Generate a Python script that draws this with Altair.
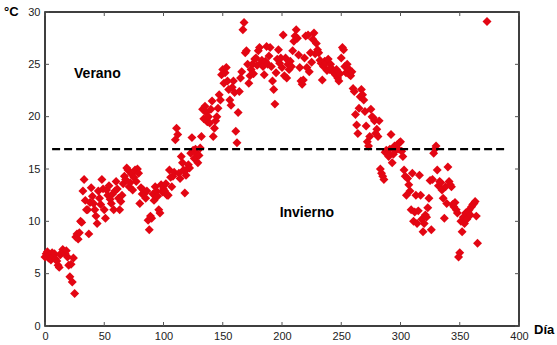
import altair as alt
import pandas as pd

# --- data ---
day = [0, 1, 2, 3, 4, 5, 6, 7, 8, 9, 10, 11, 12, 13, 14, 15, 16, 17, 18, 19, 20, 21, 22, 23, 24, 25,
       26, 27, 28, 29, 30, 31, 32, 33, 34, 35,
       36, 37, 38, 39, 40, 41, 42, 43, 44, 45, 46, 47, 48, 49, 50, 51,
       52, 53, 54, 55, 56, 57, 58, 59, 60, 61, 62, 63, 64, 65,
       66, 67, 68, 69, 70, 71, 72, 73, 74, 75, 76, 77, 78, 79, 80,
       81, 82, 83, 84, 85, 86, 87, 88, 89, 90, 91, 92, 93, 94, 95, 96, 97,
       98, 99, 100, 101, 102, 103, 104, 105, 106, 107, 108, 109, 110, 111, 112,
       113, 114, 115, 116, 117, 118, 119, 120, 121, 122, 123, 124, 125,
       126, 127, 128, 129, 130, 131, 132, 133, 134, 135, 136, 137, 138, 139,
       140, 141, 142, 143, 144, 145, 146, 147, 148, 149, 150, 151, 152, 153, 154,
       155, 156, 157, 158, 159, 160, 161, 162, 163, 164, 165, 166, 167, 168, 169, 170,
       171, 172, 173, 174, 175, 176, 177, 178, 179, 180, 181, 182, 183, 184,
       185, 186, 187, 188, 189, 190, 191, 192, 193, 194, 195, 196, 197, 198,
       199, 200, 201, 202, 203, 204, 205, 206, 207,
       208, 209, 210, 211, 212, 213, 214, 215, 216, 217, 218, 219, 220, 221,
       222, 223, 224, 225, 226, 227, 228, 229, 230, 231, 232, 233, 234, 235, 236, 237,
       238, 239, 240, 241, 242, 243, 244, 245, 246, 247, 248, 249, 250, 251, 252, 253, 254, 255, 256, 257, 258, 259,
       260, 261, 262, 263, 264, 265, 266, 267, 268, 269, 270, 271, 272, 273, 274, 275, 276, 277, 278, 279, 280, 281, 282,
       283, 284, 285, 286, 287, 288, 289, 290, 291, 292, 293, 294, 295, 296, 297, 298, 299, 300, 301, 302, 303, 304,
       305, 306, 307, 308, 309, 310, 311, 312, 313, 314, 315, 316, 317, 318, 319, 320, 321, 322, 323, 324, 325, 326, 327,
       328, 329, 330, 331, 332, 333, 334, 335, 336, 337, 338, 339, 340, 341, 342, 343, 344, 345, 346, 347, 348, 349, 350, 351, 352, 353,
       354, 355, 356, 357, 358, 359, 360, 361, 362, 363, 364, 365, 373]

temp = [6.6, 6.9, 7.1, 6.5, 6.8, 6.3, 7.0, 6.7, 6.9, 6.4, 6.2, 5.8, 5.6, 6.8, 7.0, 7.3, 7.1, 6.9, 7.2, 6.6, 5.8, 4.7, 5.9, 4.2, 6.5, 3.1,
        8.5, 8.8, 8.3, 8.9, 10.0, 9.9, 12.9, 14.0, 12.0, 11.1,
        11.1, 8.8, 11.8, 13.2, 12.4, 11.7, 11.1, 10.5, 9.8, 12.9, 12.2, 11.6, 14.0, 13.1, 11.1, 10.3,
        13.0, 12.5, 13.4, 12.1, 11.7, 12.6, 11.1, 12.9, 13.8, 13.1, 12.2, 11.1, 11.9, 12.5,
        13.6, 14.3, 14.0, 15.1, 14.9, 13.3, 13.7, 14.5, 13.0, 14.2, 14.9, 13.8, 15.0, 14.6, 11.7,
        13.2, 12.6, 13.0, 12.7, 12.2, 12.9, 10.1, 9.2, 10.5, 10.3, 12.6, 12.0, 13.3, 12.9, 12.4, 11.1, 10.8,
        13.5, 12.8, 13.1, 12.9, 13.6, 12.5, 12.5, 14.9, 14.2, 13.3, 14.3, 14.7, 17.8, 18.9, 18.3,
        14.6, 14.1, 16.2, 15.6, 14.9, 12.7, 14.4, 15.0, 15.4, 15.1, 16.5, 18.0, 16.8,
        16.0, 16.9, 16.5, 15.6, 16.3, 17.0, 18.1, 20.7, 19.8, 21.0, 20.4, 19.5, 20.0, 19.4,
        20.7, 21.5, 18.1, 18.9, 19.6, 20.0, 20.8, 22.1, 21.6, 24.0, 24.5, 23.2, 24.2, 24.7, 23.4,
        22.6, 21.6, 21.1, 22.8, 23.4, 22.3, 18.6, 17.5, 20.4, 22.4, 23.7, 24.3, 28.3, 29.0, 26.1, 26.3,
        25.0, 23.2, 23.9, 24.5, 25.0, 24.1, 25.5, 25.6, 24.9, 26.3, 26.6, 25.1, 25.4, 24.8,
        24.0, 25.3, 26.7, 25.0, 25.8, 26.6, 24.8, 23.4, 22.6, 21.2, 24.2, 25.5, 26.4, 25.1,
        25.6, 24.7, 27.8, 23.9, 25.6, 23.7, 25.0, 24.5, 25.3,
        24.8, 26.3, 27.2, 27.7, 28.3, 27.5, 25.9, 24.7, 23.4, 23.1, 23.5, 25.6, 27.7, 24.7,
        27.8, 24.3, 26.1, 25.2, 27.4, 28.0, 26.0, 27.0, 26.4, 26.1, 25.4, 25.1, 23.5, 24.8, 25.3, 25.1,
        24.4, 25.5, 24.5, 25.0, 24.6, 24.3, 24.2, 24.0, 24.5, 23.7, 23.4, 24.1, 25.6, 26.6, 26.4, 24.8, 24.2, 25.0, 24.6, 24.0, 23.9, 24.3,
        22.7, 22.4, 20.2, 19.2, 18.4, 20.8, 21.9, 22.6, 22.1, 21.6, 20.5, 19.1, 17.6, 17.2, 18.1, 20.7, 20.0, 19.9, 19.6, 18.4, 18.8, 18.1, 19.6,
        15.0, 14.6, 14.3, 14.0, 16.6, 16.8, 16.5, 16.2, 16.9, 18.3, 15.6, 16.4, 17.2, 16.8, 17.3, 16.9, 17.5, 17.6, 16.7, 16.2, 14.9, 14.3,
        12.5, 14.1, 13.5, 12.9, 11.1, 14.6, 10.0, 10.9, 12.5, 9.8, 11.0, 14.4, 12.5, 10.2, 9.0, 9.8, 10.6, 10.4, 11.3, 12.2, 13.9, 9.2, 14.0,
        16.5, 16.9, 17.2, 14.9, 13.4, 13.8, 13.7, 13.0, 12.2, 10.3, 13.3, 11.7, 15.2, 13.8, 13.5, 13.3, 11.6, 11.4, 11.8, 11.1, 10.8, 6.6, 7.0, 10.0, 9.0, 10.4,
        9.8, 10.8, 10.2, 10.9, 11.1, 10.6, 11.4, 11.6, 11.7, 11.9, 10.5, 7.9, 29.1]

threshold = [16.9]
threshold_start = [6]
threshold_end = [390]

x_ticks = [0, 50, 100, 150, 200, 250, 300, 350, 400]
y_ticks = [0, 5, 10, 15, 20, 25, 30]

season_labels = ["Verano", "Invierno"]
season_day = [24.5, 198]
season_temp = [24.1, 10.8]

FONT = "Liberation Sans"
W, H = 474, 314

xs = alt.Scale(domain=[0, 400], nice=False, zero=False)
ys = alt.Scale(domain=[0, 30], nice=False, zero=False)
xaxis = alt.Axis(values=x_ticks, title=None, ticks=False, domain=False, grid=False,
                 labelPadding=4, labelFontSize=11, labelColor="#222", labelFont=FONT,
                 labelFlush=False)
yaxis = alt.Axis(values=y_ticks, title=None, ticks=False, domain=False, grid=False,
                 labelPadding=5, labelFontSize=11, labelColor="#222", labelFont=FONT,
                 labelFlush=False)


def X(field):
    return alt.X(field, scale=xs, axis=xaxis)


def Y(field):
    return alt.Y(field, scale=ys, axis=yaxis)


df = pd.DataFrame({"day": day, "temp": temp})
points = alt.Chart(df).mark_point(
    shape="diamond", filled=True, size=80, color="#e30613", opacity=1, strokeWidth=0
).encode(x=X("day:Q"), y=Y("temp:Q"))

line_df = pd.DataFrame({"day": threshold_start, "day2": threshold_end, "temp": threshold})
dashed = alt.Chart(line_df).mark_rule(color="black", strokeWidth=2.2, strokeDash=[8, 4]).encode(
    x=X("day:Q"), x2="day2:Q", y=Y("temp:Q")
)

xt = pd.DataFrame({"day": x_ticks})
yt = pd.DataFrame({"temp": y_ticks})
tick_col = "#555"
xb = alt.Chart(xt).mark_rule(color=tick_col).encode(
    x=X("day:Q"), y=alt.value(H), y2=alt.value(H - 4))
xtop = alt.Chart(xt).mark_rule(color=tick_col).encode(
    x=X("day:Q"), y=alt.value(0), y2=alt.value(4))
yl = alt.Chart(yt).mark_rule(color=tick_col).encode(
    y=Y("temp:Q"), x=alt.value(0), x2=alt.value(4))
yr = alt.Chart(yt).mark_rule(color=tick_col).encode(
    y=Y("temp:Q"), x=alt.value(W), x2=alt.value(W - 4))

lab_df = pd.DataFrame({"t": season_labels, "day": season_day, "temp": season_temp})
labels = alt.Chart(lab_df).mark_text(
    align="left", baseline="middle", font=FONT, fontSize=14, fontWeight="bold", color="black"
).encode(x=X("day:Q"), y=Y("temp:Q"), text="t:N")

unit_y = alt.Chart(pd.DataFrame({"t": ["°C"]})).mark_text(
    align="left", baseline="middle", font=FONT, fontSize=13, fontWeight="bold", color="black"
).encode(x=alt.value(-41), y=alt.value(0), text="t:N")
unit_x = alt.Chart(pd.DataFrame({"t": ["Día"]})).mark_text(
    align="left", baseline="middle", font=FONT, fontSize=13, fontWeight="bold", color="black"
).encode(x=alt.value(489), y=alt.value(318), text="t:N")

chart = alt.layer(points, dashed, xb, xtop, yl, yr, labels, unit_y, unit_x).properties(
    width=W, height=H,
    autosize=alt.AutoSizeParams(type="none"),
    padding={"left": 45, "top": 12, "right": 38, "bottom": 19},
    background="white",
).configure_view(stroke="black", strokeWidth=1.5)

chart.save("out.html", embed_options={"renderer": "svg", "actions": False})
